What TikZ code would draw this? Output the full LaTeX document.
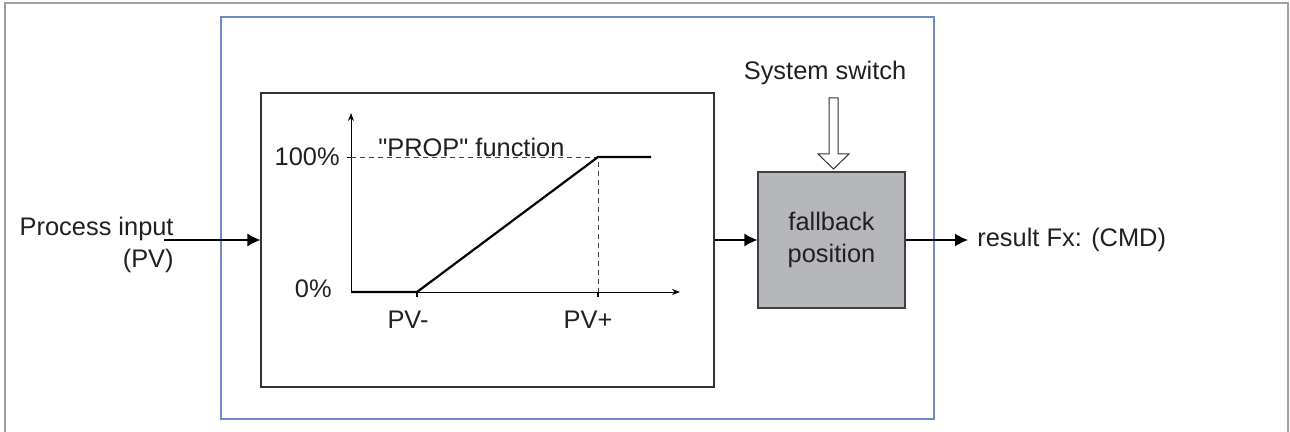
\documentclass[tikz,border=0pt]{standalone}
\usepackage{fontspec}
\setmainfont{Liberation Sans}
\usetikzlibrary{arrows.meta}
\definecolor{framegray}{RGB}{160,160,164}
\definecolor{unitblue}{RGB}{110,138,198}
\definecolor{boxgray}{RGB}{182,183,186}
\definecolor{ink}{RGB}{35,31,32}

\begin{document}
\begin{tikzpicture}[>=Latex,x=0.5pt,y=-0.5pt,
  txt/.style={text=ink,font=\fontsize{12.7}{16}\selectfont,inner sep=0pt},
  conn/.style={-{Latex[length=6.5pt,width=6.5pt]},line width=0.6pt},
  axis/.style={-{Stealth[length=4pt,width=3pt]},line width=0.45pt},
  guide/.style={dash pattern=on 2.5pt off 2pt,line width=0.45pt,black!75}]
  \useasboundingbox (0,0) rectangle (1290,432);
  \draw[framegray,line width=1.1pt] (5,432) -- (5,3) -- (1288,3) -- (1288,432);

  \node[draw=unitblue,line width=0.65pt,minimum width=356.5pt,minimum height=201pt,
    inner sep=0pt] (unit) at (577.5,218) {};
  \node[draw=black!80,line width=0.6pt,minimum width=226.5pt,minimum height=147pt,
    inner sep=0pt] (func) at (487.5,240) {};
  \node[draw=black!75,fill=boxgray,line width=0.6pt,minimum width=73.5pt,
    minimum height=68pt,txt,align=center] (fb) at (831.5,240) {fallback\\position};

  % characteristic curve
  \coordinate (org) at (351,292);
  \coordinate (pvlo) at (417,292);
  \coordinate (pvhi) at (598,157);
  \draw[axis] (org) -- (351,113);
  \draw[axis] (org) -- (680,292);
  \draw[guide] (org |- pvhi) -- (pvhi) -- (pvhi |- org);
  \draw[line width=1.1pt] (org) -- (pvlo) -- (pvhi) -- (651,157);
  \foreach \p in {pvlo,pvhi}
    \draw[line width=0.6pt] (\p |- org) -- ++(0,5);
  \draw[line width=0.45pt] (347,157) -- (org |- pvhi);

  \node[txt,anchor=east] (hi) at (340,157) {100\%};
  \node[txt,anchor=east] (lo) at (332,289) {0\%};
  \node[txt] (pvminus) at (408,320) {PV-};
  \node[txt] (pvplus) at (588,320) {PV+};
  \node[txt,anchor=base west] (prop) at (378,157)
    {\textquotedbl PROP\textquotedbl\ function};

  % signals
  \node[txt,anchor=east,align=right] (pv) at (174,245) {Process input\\(PV)};
  \coordinate (in) at (164,240);
  \draw[conn] (in) -- (func.west);
  \draw[conn] (func.east) -- (fb.west);
  \coordinate (out) at (968,240);
  \draw[conn] (fb.east) -- (out);
  \node[txt,anchor=west,inner sep=4.5pt] (res) at (out) {result Fx: (CMD)};

  \node[txt] (sys) at (825,73) {System switch};
  \draw[black!80,line width=0.5pt,fill=white] (829,98) -- (838,98) -- (838,154)
    -- (849,154) -- (833.5,169) -- (818,154) -- (829,154) -- cycle;
\end{tikzpicture}
\end{document}
